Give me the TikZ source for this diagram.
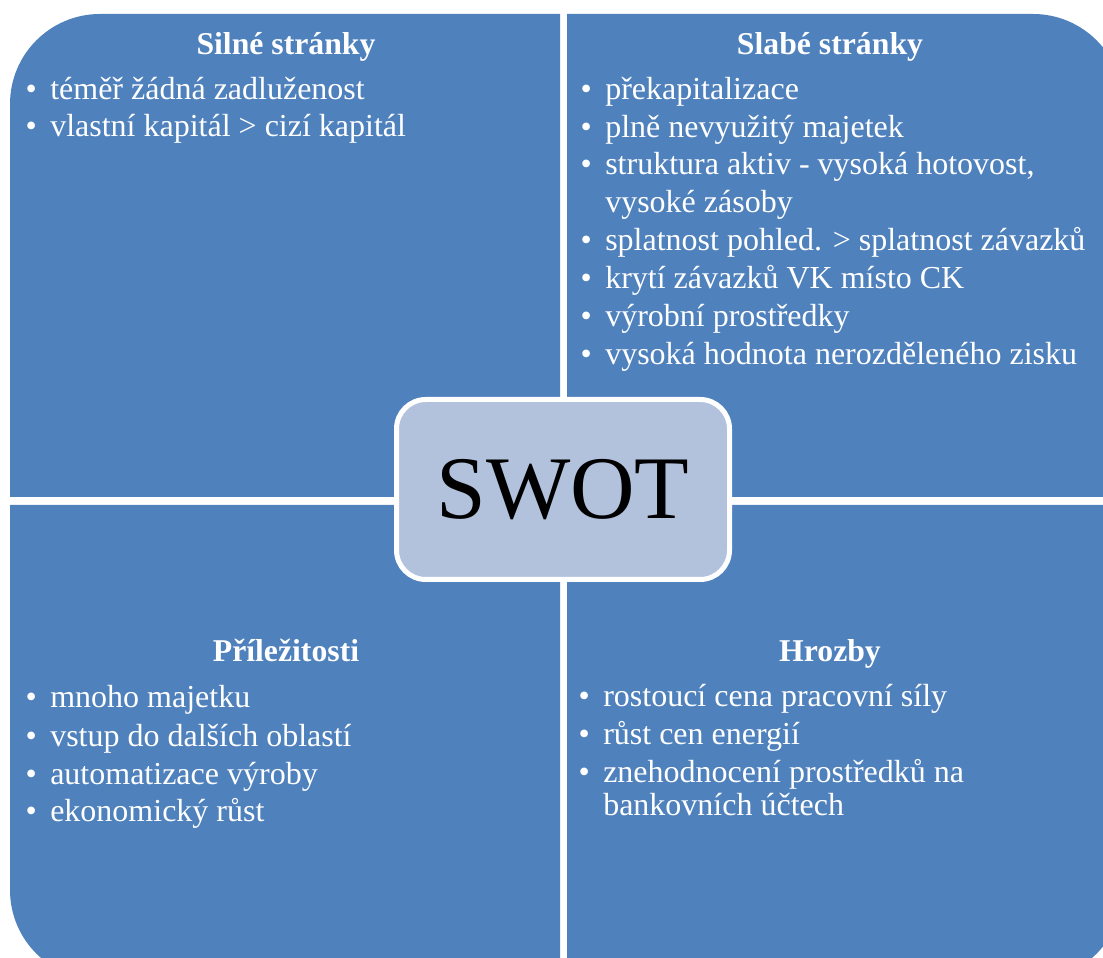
\documentclass[tikz,border=0pt]{standalone}
\usepackage{fontspec}
\setmainfont{Liberation Serif}
\usepackage{xcolor}
\usepackage{tikz}
\definecolor{swotblue}{RGB}{79, 129, 189}
\definecolor{swotcore}{RGB}{178, 194, 221}
\usetikzlibrary{positioning}

\begin{document}
\begin{tikzpicture}[
    x=0.75pt, y=0.75pt,
    quadrant/.style={fill=swotblue},
    heading/.style={anchor=base, inner sep=0, text=white, font=\fontsize{23.8}{28}\selectfont\bfseries},
    cont/.style={anchor=base west, inner sep=0, text=white, font=\fontsize{24}{28}\selectfont},
    item/.style={cont, execute at begin node={\llap{\textbullet\hspace{10pt}}}},
    core/.style={rectangle, draw=white, line width=3.75pt, fill=swotcore, rounded corners=22pt, minimum width=249.75pt, minimum height=135pt, font=\fontsize{67}{70}\selectfont}
]
    \useasboundingbox (0,0) rectangle (1103,957);

    % Quadrants
    \fill[quadrant] (560,460) -- (10,460) -- (10,853) arc[start angle=180, end angle=90, radius=67.5pt] -- (560,943) -- cycle;
    \fill[quadrant] (567,460) -- (567,943) -- (1033,943) arc[start angle=90, end angle=0, radius=67.5pt] -- (1123,460) -- cycle;
    \fill[quadrant] (560,452) -- (10,452) -- (10,67) arc[start angle=180, end angle=270, radius=67.5pt] -- (560,-23) -- cycle;
    \fill[quadrant] (567,452) -- (567,-23) -- (1033,-23) arc[start angle=270, end angle=360, radius=67.5pt] -- (1123,452) -- cycle;

    % Silne stranky
    \node[heading] (sHead) at (286,902) {Silné stránky};
    \node[item] (s1) at (50,857) {téměř žádná zadluženost};
    \node[item] (s2) at (50,820) {vlastní kapitál > cizí kapitál};

    % Slabe stranky
    \node[heading] (wHead) at (830,902) {Slabé stránky};
    \node[item] (w1) at (605,857) {překapitalizace};
    \node[item] (w2) at (605,819) {plně nevyužitý majetek};
    \node[item] (w3) at (605,782) {struktura aktiv - vysoká hotovost,};
    \node[cont] (w3b) at (605,744) {vysoké zásoby};
    \node[item] (w4) at (605,706) {splatnost pohled. > splatnost závazků};
    \node[item] (w5) at (605,668) {krytí závazků VK místo CK};
    \node[item] (w6) at (605,630) {výrobní prostředky};
    \node[item] (w7) at (605,592) {vysoká hodnota nerozděleného zisku};

    % Prilezitosti
    \node[heading] (oHead) at (286,295) {Příležitosti};
    \node[item] (o1) at (50,249) {mnoho majetku};
    \node[item] (o2) at (50,210) {vstup do dalších oblastí};
    \node[item] (o3) at (50,172) {automatizace výroby};
    \node[item] (o4) at (50,135) {ekonomický růst};

    % Hrozby
    \node[heading] (tHead) at (830,295) {Hrozby};
    \node[item] (t1) at (603,250) {rostoucí cena pracovní síly};
    \node[item] (t2) at (603,212) {růst cen energií};
    \node[item] (t3) at (603,174) {znehodnocení prostředků na};
    \node[cont] (t3b) at (603,142) {bankovních účtech};

    % Center
    \node[core] (swot) at (563,467.5) {SWOT};
\end{tikzpicture}
\end{document}
